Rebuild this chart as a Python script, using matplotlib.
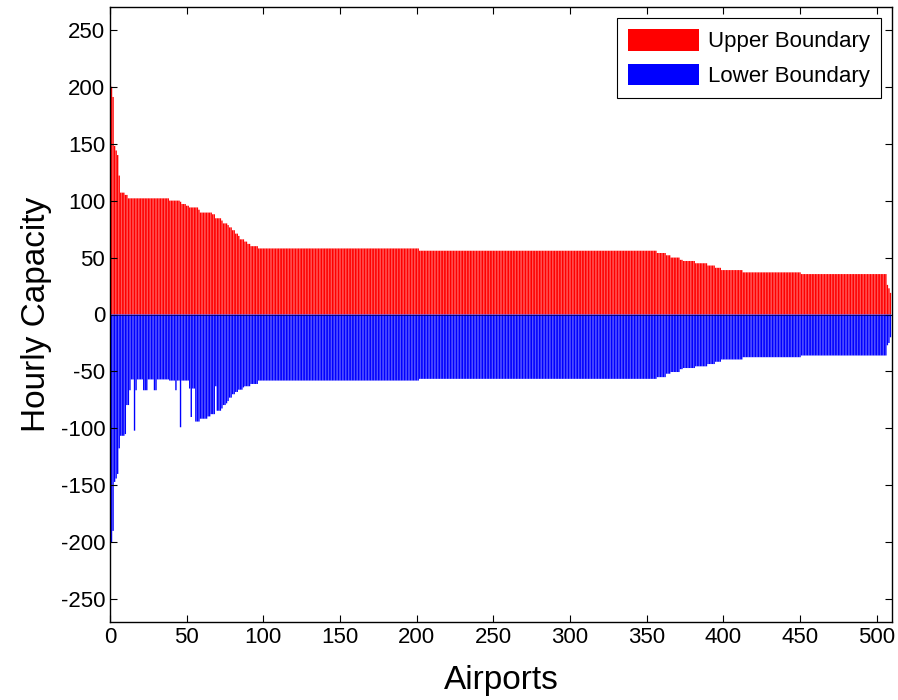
import numpy as np
import matplotlib
matplotlib.use("Agg")
import matplotlib.pyplot as plt

plt.rcParams['font.family'] = ['Liberation Sans', 'DejaVu Sans']
plt.rcParams['axes.unicode_minus'] = False

# upper boundary per airport, as (value, number of airports) runs
upper_vals = [200, 191, 148, 144, 140, 122, 107, 105, 102, 100, 99, 97, 95.5, 94, 92,
              89.5, 88, 84.5, 82.5, 80, 78.5, 76.5, 74, 71, 69, 66, 64, 62, 60, 58,
              56, 54, 52, 50, 48, 47, 45, 43, 41, 39, 37, 35.5, 26, 23, 19]
upper_counts = [1, 1, 1, 1, 1, 1, 3, 2, 27, 7, 1, 3, 2, 6, 1,
                8, 2, 4, 1, 3, 1, 2, 2, 2, 1, 3, 2, 2, 5, 105,
                155, 6, 3, 6, 2, 8, 8, 5, 4, 14, 38, 56, 1, 1, 1]

# lower boundary per airport, same run format
lower_vals = [-200, -190, -147, -144, -140, -117.5, -106.5, -105, -79.5, -66.5, -57, -102,
              -66.5, -57, -66.5, -57, -66.5, -57, -58, -66.5, -58, -99, -58, -65, -90,
              -65, -94, -91.5, -89.5, -87.5, -63, -84.5, -82.5, -79.5, -78, -76, -73,
              -70, -68, -66, -64, -63, -61, -58, -56.5, -55, -52, -50.5, -48, -47,
              -45.5, -43.5, -41.5, -39.5, -37.5, -36, -27, -25, -20]
lower_counts = [1, 1, 1, 1, 1, 1, 3, 1, 2, 1, 2, 1,
                1, 4, 3, 4, 2, 8, 4, 1, 2, 1, 5, 1, 1,
                2, 3, 5, 2, 3, 1, 3, 1, 2, 1, 1, 2,
                2, 2, 3, 1, 4, 5, 105, 155, 6, 3, 6, 2, 8,
                8, 5, 4, 14, 38, 56, 1, 1, 1]

upper = np.repeat(upper_vals, upper_counts)
lower = np.repeat(lower_vals, lower_counts)
airports = np.arange(1, len(upper) + 1)

fig = plt.figure(figsize=(8.98, 7), dpi=100)
ax = fig.add_axes([110 / 898, 78 / 700, 782 / 898, 615 / 700])

ax.bar(airports, upper, width=0.9, color='#ff0000', edgecolor='none',
       snap=False, label='Upper Boundary')
ax.bar(airports, lower, width=0.9, color='#0000ff', edgecolor='none',
       snap=False, label='Lower Boundary')
ax.axhline(0, color='#000060', lw=0.6)

ax.set_xlim(0, 510)
ax.set_ylim(-270, 270)
ax.set_xticks(np.arange(0, 501, 50))
ax.set_yticks(np.arange(-250, 251, 50))
ax.tick_params(direction='in', length=5, width=0.8, labelsize=16,
               top=True, right=True)
for s in ax.spines.values():
    s.set_linewidth(1.0)

ax.set_xlabel('Airports', fontsize=24, labelpad=12)
ax.set_ylabel('Hourly Capacity', fontsize=24, labelpad=6)

leg = ax.legend(loc='upper right', fontsize=16, fancybox=False, edgecolor='black',
                framealpha=1, handlelength=3.2, handleheight=1.1,
                handletextpad=0.4, labelspacing=0.5, borderpad=0.5,
                borderaxespad=0.5)
leg.get_frame().set_linewidth(0.8)

fig.savefig('out.png', dpi=100)
